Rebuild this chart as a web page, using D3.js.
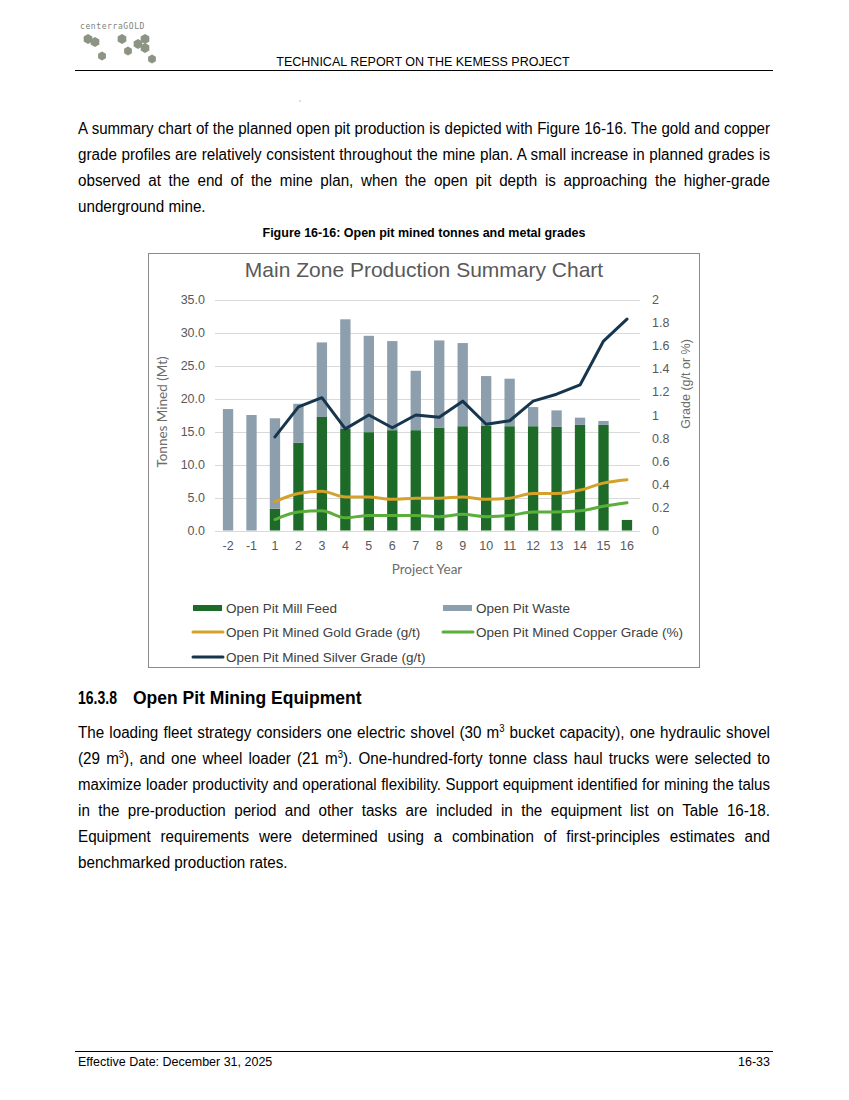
<!DOCTYPE html>
<html><head><meta charset="utf-8">
<script src="https://cdn.jsdelivr.net/npm/d3@7"></script>
<style>
body{margin:0;background:#fff;width:849px;height:1100px;position:relative;overflow:hidden;font-family:"Liberation Sans",Arial,sans-serif;color:#000}
.ln{position:absolute;left:78px;width:692px;font-size:16px;line-height:18px;text-align:justify;text-align-last:justify;height:20px;overflow:visible;transform-origin:0 0}
.ln.last{text-align-last:left}
sup{font-size:10px;line-height:0;vertical-align:6px}
#chart{position:absolute;left:0;top:0}
</style></head>
<body>
<svg id="chart" width="849" height="1100"></svg>
<div class="ln" style="top:120px">A summary chart of the planned open pit production is depicted with Figure 16-16. The gold and copper</div>
<div class="ln" style="top:146px">grade profiles are relatively consistent throughout the mine plan. A small increase in planned grades is</div>
<div class="ln" style="top:172px">observed at the end of the mine plan, when the open pit depth is approaching the higher-grade</div>
<div class="ln last" style="top:198px">underground mine.</div>
<div class="ln" style="top:724px">The loading fleet strategy considers one electric shovel (30 m<sup>3</sup> bucket capacity), one hydraulic shovel</div>
<div class="ln" style="top:750px">(29 m<sup>3</sup>), and one wheel loader (21 m<sup>3</sup>). One-hundred-forty tonne class haul trucks were selected to</div>
<div class="ln" style="top:776px">maximize loader productivity and operational flexibility. Support equipment identified for mining the talus</div>
<div class="ln" style="top:802px">in the pre-production period and other tasks are included in the equipment list on Table 16-18.</div>
<div class="ln" style="top:828px">Equipment requirements were determined using a combination of first-principles estimates and</div>
<div class="ln last" style="top:854px">benchmarked production rates.</div>
<script>
const years = ["-2","-1","1","2","3","4","5","6","7","8","9","10","11","12","13","14","15","16"];
const millFeed = [0,0,3.3,13.3,17.2,15.4,14.9,15.2,15.2,15.6,15.8,15.9,15.8,15.8,15.7,16.0,16.0,1.6];
const waste = [18.4,17.5,13.7,5.9,11.3,16.6,14.6,13.5,9.0,13.2,12.6,7.5,7.2,2.9,2.5,1.1,0.6,0];
const goldGrade = [null,null,0.25,0.32,0.34,0.29,0.29,0.27,0.28,0.28,0.29,0.27,0.28,0.32,0.32,0.35,0.41,0.44];
const copperGrade = [null,null,0.095,0.16,0.17,0.11,0.13,0.13,0.13,0.12,0.14,0.12,0.13,0.16,0.16,0.17,0.21,0.24];
const silverGrade = [null,null,0.81,1.07,1.15,0.88,1.00,0.89,1.00,0.98,1.12,0.92,0.95,1.12,1.18,1.26,1.64,1.83];
const leftTicks = [0,5,10,15,20,25,30,35];
const rightTicks = [0,0.2,0.4,0.6,0.8,1,1.2,1.4,1.6,1.8,2];

// fit body text lines (condensed look)
document.querySelectorAll('.ln').forEach(el=>{
  const span=document.createElement('span');
  span.innerHTML=el.innerHTML;
  span.style.whiteSpace='nowrap'; span.style.fontSize='16px'; span.style.position='absolute'; span.style.visibility='hidden';
  document.body.appendChild(span);
  const w=span.getBoundingClientRect().width; span.remove();
  let s=0.95; if(w*s>688) s=688/w;
  el.style.width=(692/s)+'px'; el.style.transform=`scaleX(${s})`;
});

const svg = d3.select("#chart");
const sans = '"Liberation Sans",Arial,sans-serif';

// Header logo
const logo = svg.append("g");
logo.append("text").attr("x",80).attr("y",29).attr("font-family",'"DejaVu Sans Mono",monospace').attr("font-size",8).attr("fill","#7d8477").attr("letter-spacing",0.6).text("centerraGOLD");
const hexes = [[88,39,5],[95,42,5],[102,56,4.5],[122,39,5],[128,51,4.5],[138,44,5],[145,39,5],[145,48,5],[152,59,4.5]];
hexes.forEach(([cx,cy,r])=>{
  const pts = d3.range(6).map(i=>{const a=Math.PI/3*i+Math.PI/6;return [cx+r*Math.cos(a),cy+r*Math.sin(a)];});
  logo.append("polygon").attr("points",pts.map(p=>p.join(",")).join(" ")).attr("fill","#8c9483");
});
svg.append("text").attr("x",423).attr("y",66).attr("text-anchor","middle").attr("font-family",sans).attr("font-size",12.5).text("TECHNICAL REPORT ON THE KEMESS PROJECT");
svg.append("line").attr("x1",75).attr("x2",773).attr("y1",70.5).attr("y2",70.5).attr("stroke","#000").attr("stroke-width",1);
svg.append("circle").attr("cx",300).attr("cy",101).attr("r",0.5).attr("fill","#555");

// caption
svg.append("text").attr("x",424).attr("y",237).attr("text-anchor","middle").attr("font-family",sans).attr("font-weight","bold").attr("font-size",12.5).text("Figure 16-16: Open pit mined tonnes and metal grades");

// chart frame
svg.append("rect").attr("x",148.5).attr("y",253.5).attr("width",551).attr("height",414).attr("fill","#fff").attr("stroke","#8a8a8a").attr("stroke-width",1);
svg.append("text").attr("x",424).attr("y",277).attr("text-anchor","middle").attr("font-family",sans).attr("font-size",21).attr("fill","#595959").text("Main Zone Production Summary Chart");

const x = d3.scaleBand().domain(years).range([216.3,638.7]).paddingInner(0.56).paddingOuter(0.28);
const yL = d3.scaleLinear().domain([0,35]).range([530.5,299.5]);
const yR = d3.scaleLinear().domain([0,2]).range([530.5,299.5]);

// gridlines
svg.append("g").selectAll("line").data(leftTicks).join("line")
  .attr("x1",215).attr("x2",640).attr("y1",d=>Math.round(yL(d))+0.5).attr("y2",d=>Math.round(yL(d))+0.5)
  .attr("stroke","#d9d9d9").attr("stroke-width",1);

// left axis
const axL = svg.append("g").attr("transform","translate(215,0)").call(d3.axisLeft(yL).tickValues(leftTicks).tickFormat(d3.format(".1f")).tickSize(0).tickPadding(10));
axL.select(".domain").remove();
axL.selectAll("text").attr("font-family",sans).attr("font-size",12.5).attr("fill","#595959");
// right axis
const axR = svg.append("g").attr("transform","translate(640,0)").call(d3.axisRight(yR).tickValues(rightTicks).tickFormat(d=>String(d)).tickSize(0).tickPadding(12));
axR.select(".domain").remove();
axR.selectAll("text").attr("font-family",sans).attr("font-size",12.5).attr("fill","#595959");
// bottom axis
const axB = svg.append("g").attr("transform","translate(0,531)").call(d3.axisBottom(x).tickSize(0).tickPadding(10));
axB.select(".domain").remove();
axB.selectAll("text").attr("font-family",sans).attr("font-size",12.5).attr("fill","#595959");

// axis titles
svg.append("text").attr("transform","translate(167,412) rotate(-90)").attr("text-anchor","middle").attr("font-family","Lato,sans-serif").attr("font-size",13.5).attr("fill","#6d6d6d").text("Tonnes Mined (Mt)");
svg.append("text").attr("transform","translate(690,384) rotate(-90)").attr("text-anchor","middle").attr("font-family",sans).attr("font-size",12.5).attr("fill","#6d6d6d").text("Grade (g/t or %)");
svg.append("text").attr("x",427).attr("y",574).attr("text-anchor","middle").attr("font-family","Lato,sans-serif").attr("font-size",13.5).attr("fill","#6d6d6d").text("Project Year");

// bars (stacked)
const rows = years.map((y,i)=>({year:y,feed:millFeed[i],waste:waste[i]}));
const stack = d3.stack().keys(["feed","waste"])(rows);
const barColors = {feed:"#1e6b29",waste:"#8d9fad"};
svg.append("g").selectAll("g").data(stack).join("g").attr("fill",d=>barColors[d.key])
  .selectAll("rect").data(d=>d).join("rect")
  .attr("x",d=>x(d.data.year)).attr("width",x.bandwidth())
  .attr("y",d=>yL(d[1])).attr("height",d=>Math.max(0,yL(d[0])-yL(d[1])));

// lines
const cx = d=>x(d.year)+x.bandwidth()/2;
function drawLine(vals,color,curve){
  const pts = years.map((y,i)=>({year:y,v:vals[i]})).filter(d=>d.v!=null);
  svg.append("path").datum(pts).attr("fill","none").attr("stroke",color).attr("stroke-width",3).attr("stroke-linejoin","round").attr("stroke-linecap","round")
    .attr("d",d3.line().x(cx).y(d=>yR(d.v)).curve(curve));
}
drawLine(goldGrade,"#d4a12b",d3.curveMonotoneX);
drawLine(copperGrade,"#5aae3a",d3.curveMonotoneX);
drawLine(silverGrade,"#17364d",d3.curveLinear);

// legend
const legend = [
  {label:"Open Pit Mill Feed",type:"bar",color:"#1e6b29",x:193,y:608},
  {label:"Open Pit Waste",type:"bar",color:"#8d9fad",x:443,y:608},
  {label:"Open Pit Mined Gold Grade (g/t)",type:"line",color:"#d4a12b",x:193,y:632},
  {label:"Open Pit Mined Copper Grade (%)",type:"line",color:"#5aae3a",x:443,y:632},
  {label:"Open Pit Mined Silver Grade (g/t)",type:"line",color:"#17364d",x:193,y:657}
];
const lg = svg.append("g").selectAll("g").data(legend).join("g").attr("transform",d=>`translate(${d.x},${d.y})`);
lg.filter(d=>d.type==="bar").append("rect").attr("x",0).attr("y",-3).attr("width",29).attr("height",6).attr("fill",d=>d.color);
lg.filter(d=>d.type==="line").append("line").attr("x1",0).attr("x2",30).attr("y1",0).attr("y2",0).attr("stroke",d=>d.color).attr("stroke-width",3).attr("stroke-linecap","round");
lg.append("text").attr("x",33).attr("y",5).attr("font-family",sans).attr("font-size",13.5).attr("fill","#404040").text(d=>d.label);

// section heading
svg.append("text").attr("x",78).attr("y",704).attr("font-family",sans).attr("font-weight","bold").attr("font-size",17.5).attr("textLength",39).attr("lengthAdjust","spacingAndGlyphs").text("16.3.8");
svg.append("text").attr("x",133).attr("y",704).attr("font-family",sans).attr("font-weight","bold").attr("font-size",17.5).text("Open Pit Mining Equipment");

// footer
svg.append("line").attr("x1",75).attr("x2",773).attr("y1",1051.5).attr("y2",1051.5).attr("stroke","#000").attr("stroke-width",1);
svg.append("text").attr("x",78).attr("y",1066).attr("font-family",sans).attr("font-size",12.5).text("Effective Date: December 31, 2025");
svg.append("text").attr("x",770).attr("y",1066).attr("text-anchor","end").attr("font-family",sans).attr("font-size",12.5).text("16-33");
</script>
</body></html>
